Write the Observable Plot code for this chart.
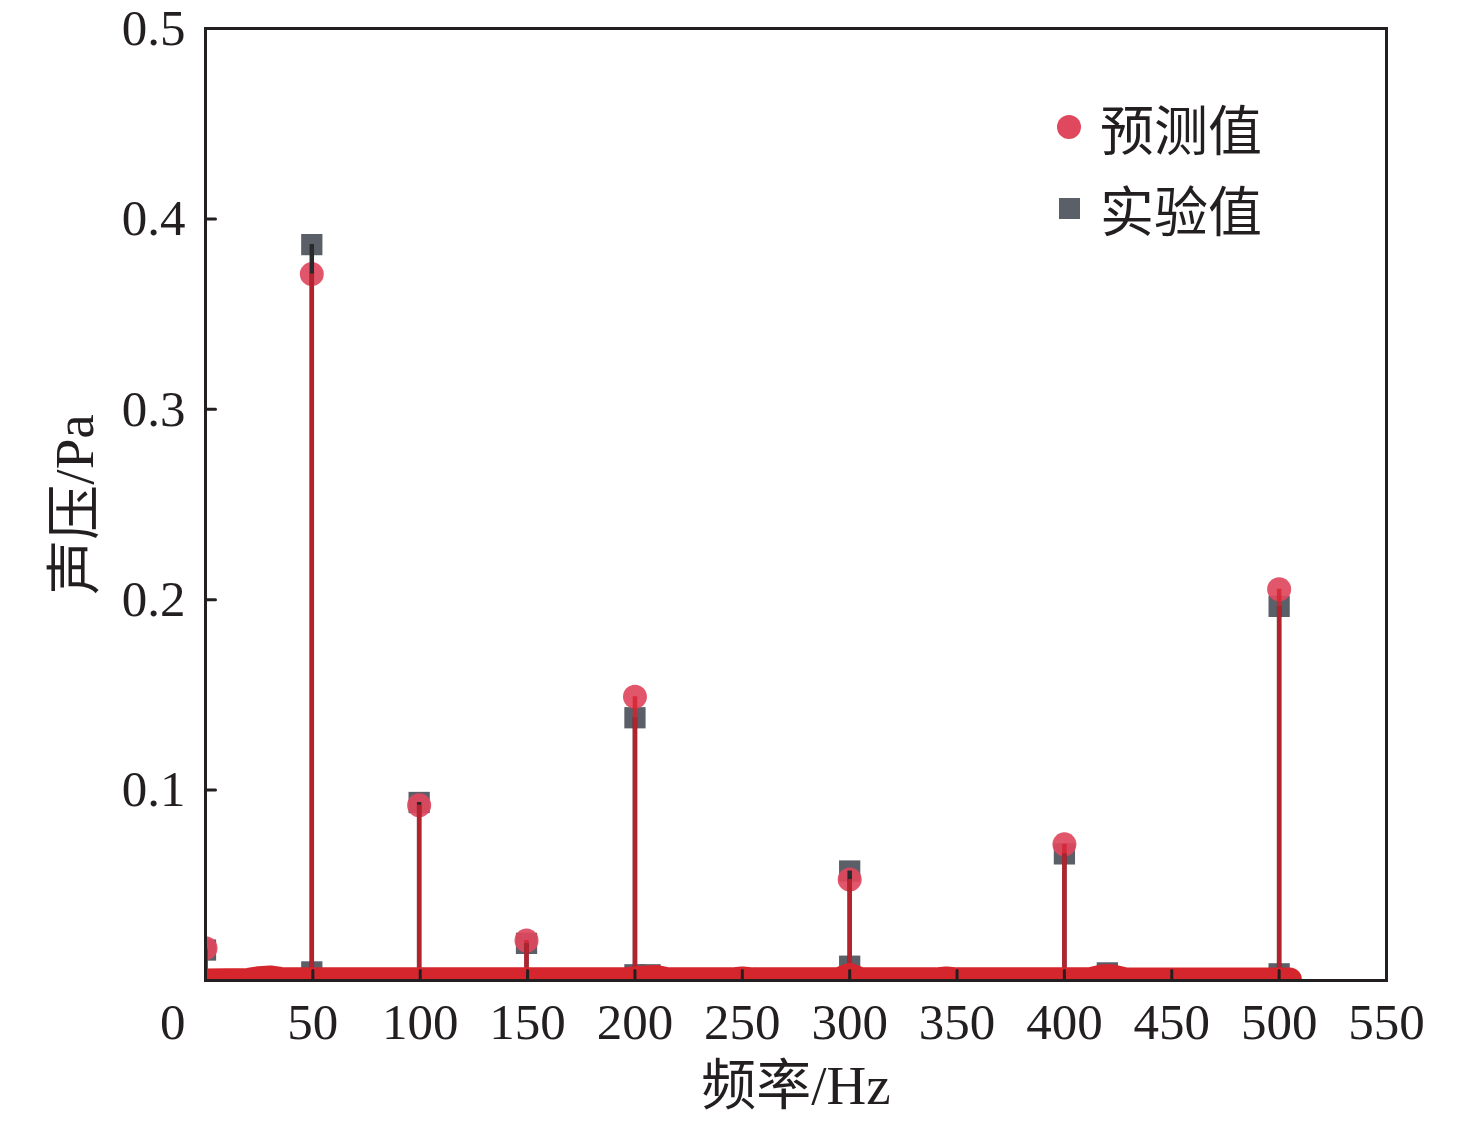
<!DOCTYPE html>
<html><head><meta charset="utf-8">
<script src="https://cdn.jsdelivr.net/npm/d3@7"></script>
<script src="https://cdn.jsdelivr.net/npm/@observablehq/plot@0.6"></script>
<style>
body{margin:0;background:#fff;}
#wrap{position:relative;width:1476px;height:1122px;}
.item{position:absolute;left:1055px;height:80px;display:flex;align-items:center;font-family:"Liberation Serif","Noto Sans CJK SC",serif;font-size:54px;color:#231f20;}
.mk{width:28px;height:28px;display:flex;align-items:center;justify-content:center;margin-right:17px;}
.circ{width:24px;height:24px;border-radius:50%;background:#e0485e;}
.sq{width:21px;height:21px;background:#5b5f68;}
</style>
</head><body>
<div id="wrap"></div>
<script>
// ---- data ----
const xTickValues = [50, 100, 150, 200, 250, 300, 350, 400, 450, 500, 550];
const yTickValues = [0.1, 0.2, 0.3, 0.4, 0.5];
const seriesNames = ["预测值", "实验值"];

// main spectral peaks
const peakFreq = [0, 49.5, 99.5, 149.5, 200, 300, 400, 500];
const predVal  = [0.017, 0.371, 0.092, 0.021, 0.149, 0.053, 0.0715, 0.2055];
const expVal   = [0.016, 0.3865, 0.0935, 0.0195, 0.138, 0.0575, 0.0665, 0.1965];

// low-level experimental bins
const expLowFreq = [27, 49.5, 200, 207, 300, 420, 500];
const expLowVal  = [0.001, 0.0045, 0.003, 0.003, 0.0075, 0.004, 0.0035];

// dense low-level predicted spectrum (background band)
const bandFreq = [0, 20, 25, 30, 35, 45, 55, 100, 150, 195, 205, 210, 215, 245, 250, 255, 295, 300, 305, 340, 345, 350, 412, 418, 422, 428, 505];
const bandVal  = [0, 0.0003, 0.0012, 0.0016, 0.0008, 0.0007, 0.0007, 0.0007, 0.0007, 0.0007, 0.0016, 0.0019, 0.0007, 0.0006, 0.0011, 0.0006, 0.0007, 0.003, 0.0007, 0.0006, 0.0011, 0.0006, 0.0007, 0.0022, 0.0022, 0.0007, 0.0005];

// ---- build tables ----
const peaks = peakFreq.map((f, i) => ({f, pred: predVal[i], exp: expVal[i]}));
const expLow = expLowFreq.map((f, i) => ({f, v: expLowVal[i]}));
const band = bandFreq.map((f, i) => ({f, v: bandVal[i]}));

const ink = "#231f20";
const tickShape = {draw(ctx, l) { ctx.moveTo(0, 0); ctx.lineTo(0, -l); }};

const chart = Plot.plot({
  width: 1476,
  height: 1122,
  marginLeft: 205,
  marginRight: 90,
  marginTop: 28,
  marginBottom: 142,
  style: {fontFamily: '"Liberation Serif","Noto Sans CJK SC",serif', color: ink, background: "#fff"},
  x: {domain: [0, 550]},
  y: {domain: [0, 0.5]},
  marks: [
    // experimental squares
    Plot.dot(expLow, {x: "f", y: "v", symbol: "square", r: 12, fill: "#5b5f68", clip: true}),
    Plot.dot(peaks, {x: "f", y: "exp", symbol: "square", r: 12, fill: "#5b5f68", clip: true}),
    // predicted circles
    Plot.dot(peaks, {x: "f", y: "pred", r: 12, fill: "#e0485e", fillOpacity: 0.92, clip: true}),
    // stems
    Plot.ruleX(peaks, {x: "f", y1: 0, y2: "exp", stroke: "#2a2a2c", strokeWidth: 4.5, clip: true}),
    Plot.ruleX(peaks, {x: "f", y1: 0, y2: "pred", stroke: "#d4222e", strokeOpacity: 0.8, strokeWidth: 4.5, clip: true}),
    // dense low-level band
    Plot.line(band, {x: "f", y: "v", stroke: "#d6262d", strokeWidth: 24, strokeLinecap: "round", strokeLinejoin: "round", clip: true}),
    // inward ticks
    Plot.vector(xTickValues.filter(d => d < 550), {x: d => d, frameAnchor: "bottom", length: 10, anchor: "start", shape: tickShape, stroke: ink, strokeWidth: 3}),
    Plot.vector(yTickValues.filter(d => d < 0.5), {y: d => d, frameAnchor: "left", length: 10, rotate: 90, anchor: "start", shape: tickShape, stroke: ink, strokeWidth: 3}),
    // tick labels
    Plot.axisX(xTickValues, {tickSize: 0, tickPadding: 22, fontSize: 51, label: null}),
    Plot.axisY(yTickValues, {tickSize: 0, tickPadding: 20, fontSize: 51, label: null, tickFormat: d => d.toFixed(1)}),
    Plot.axisY([0], {tickSize: 0, tickPadding: 20, dy: 42, fontSize: 51, label: null, tickFormat: d => "0"}),
    // axis titles
    Plot.text(["频率/Hz"], {text: d => d, frameAnchor: "bottom", textAnchor: "middle", lineAnchor: "middle", dy: 106, fontSize: 55, fill: ink}),
    Plot.text(["声压/Pa"], {text: d => d, frameAnchor: "left", textAnchor: "middle", lineAnchor: "middle", dx: -130, rotate: -90, fontSize: 55, fill: ink}),
    Plot.frame({stroke: ink, strokeWidth: 3})
  ]
});

const wrap = document.getElementById("wrap");
wrap.appendChild(chart);

// legend
const legendTops = [87, 168];
seriesNames.forEach((name, i) => {
  const item = document.createElement("div");
  item.className = "item";
  item.style.top = legendTops[i] + "px";
  item.innerHTML = `<span class="mk"><span class="${i === 0 ? "circ" : "sq"}"></span></span><span>${name}</span>`;
  wrap.appendChild(item);
});
</script>
</body></html>
